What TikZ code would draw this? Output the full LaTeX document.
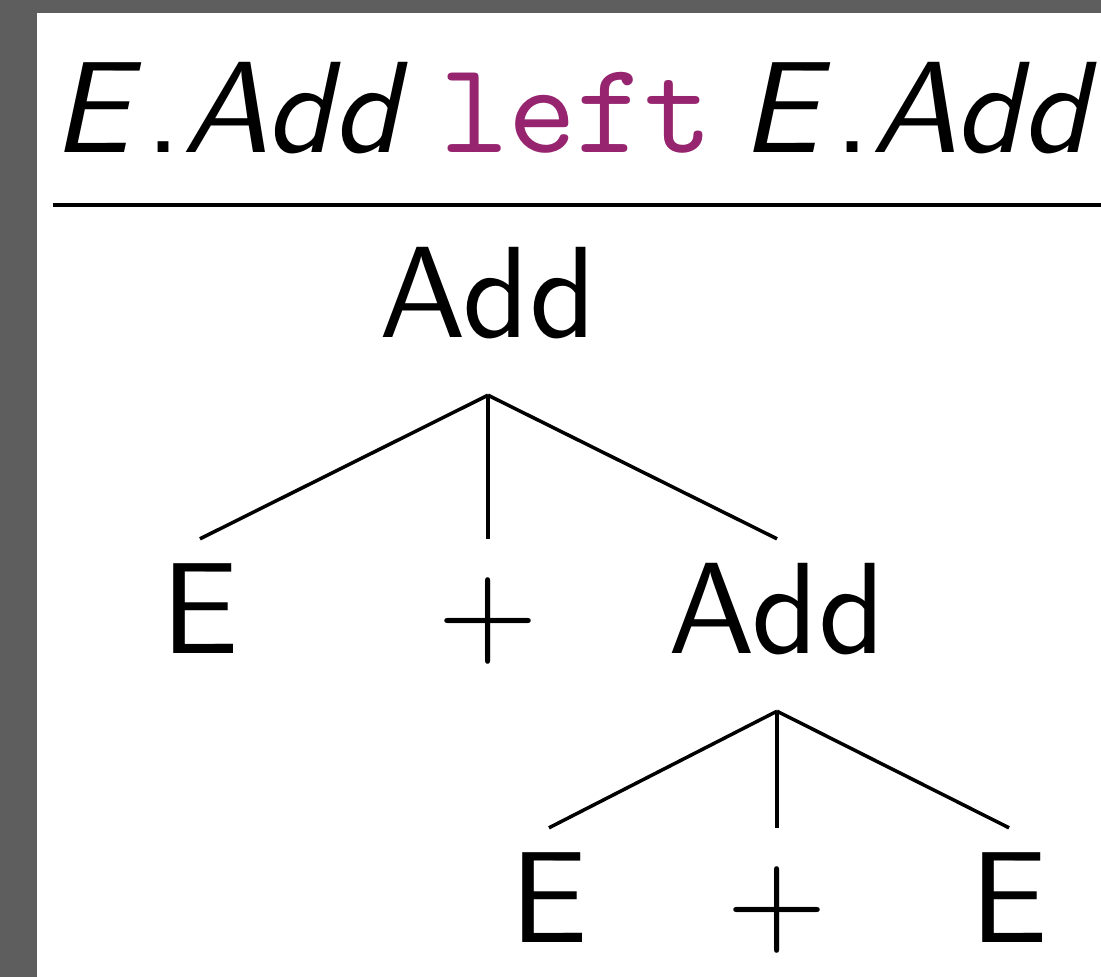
\documentclass[tikz,border=0pt]{standalone}
\usepackage{fontspec}
\setmainfont{lmroman10-regular}[Extension=.otf]
\setsansfont{lmsans10-regular}[Extension=.otf, ItalicFont=lmsans10-oblique]
\setmonofont{lmmono10-regular}[Extension=.otf]
\definecolor{kwcolor}{HTML}{96246E}
\definecolor{framegray}{HTML}{5E5E5E}
\newcommand{\eadd}{{\itshape E\/}\kern4pt{\upshape .}\kern1pt{\itshape Add}}
\begin{document}
\begin{tikzpicture}[x=1pt,y=-1pt,
  bigfont/.style={font=\sffamily\fontsize{130}{156}\selectfont},
  titlepart/.style={bigfont, inner sep=0pt, anchor=base west},
  treenode/.style={bigfont, inner sep=0pt, text height=114pt, text depth=58pt, anchor=base},
  edge/.style={line width=3.5pt},
]
\fill[framegray] (0,0) rectangle (1101,977);
\fill[white] (37,13) rectangle (1101,977);
\useasboundingbox (0,0) rectangle (1101,977);
% title
\node[titlepart] (t1) at (52,152) {\eadd};
\node[titlepart] (t2) at (440,152) {\ttfamily\color{kwcolor}left};
\node[titlepart] (t3) at (741,152) {\eadd};
\coordinate (ruleL) at (53,205);
\coordinate (ruleR) at (1101,205);
\draw[line width=4.5pt] (ruleL) -- (ruleR);
% tree
\node[treenode] (r)  at (488,337) {Add};
\node[treenode] (e1) at (200,653) {E};
\node[treenode] (p1) at (488,653) {{\rmfamily +}};
\node[treenode] (a2) at (777,653) {Add};
\node[treenode] (e2) at (549,942) {E};
\node[treenode] (p2) at (777,942) {{\rmfamily +}};
\node[treenode] (e3) at (1009,942) {E};
\draw[edge] (r.south) -- (e1.north);
\draw[edge] (r.south) -- (p1.north);
\draw[edge] (r.south) -- (a2.north);
\draw[edge] (a2.south) -- (e2.north);
\draw[edge] (a2.south) -- (p2.north);
\draw[edge] (a2.south) -- (e3.north);
\end{tikzpicture}
\end{document}
